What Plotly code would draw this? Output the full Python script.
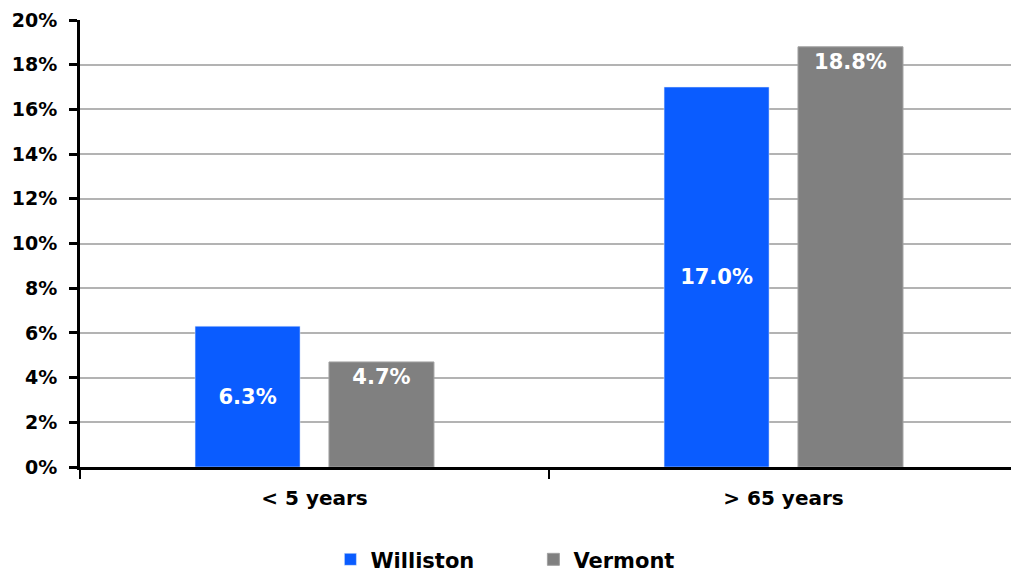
import plotly.graph_objects as go

categories = ["< 5 years", "> 65 years"]
williston = [6.3, 17.0]
vermont = [4.7, 18.8]
y_ticks = [0, 2, 4, 6, 8, 10, 12, 14, 16, 18, 20]

FONT = "DejaVu Sans"
BLUE = "#0a5cff"
GRAY = "#808080"

fig = go.Figure()
fig.add_trace(go.Bar(
    name="Williston", x=categories, y=williston, marker_color=BLUE,
    text=[f"{v:.1f}%" for v in williston], textposition="inside",
    insidetextanchor="middle",
    textfont=dict(family=FONT, size=21, color="white", weight="bold"),
))
fig.add_trace(go.Bar(
    name="Vermont", x=categories, y=vermont, marker_color=GRAY,
    marker_line=dict(color="#a0a0a0", width=1),
    text=[f"{v:.1f}%" for v in vermont], textposition="inside",
    insidetextanchor="end",
    textfont=dict(family=FONT, size=21, color="white", weight="bold"),
))

fig.update_layout(
    width=1011, height=577,
    margin=dict(l=80, r=0, t=20, b=110, autoexpand=False),
    plot_bgcolor="white", paper_bgcolor="white",
    barmode="group", bargap=0.429, bargroupgap=0.216,
    font=dict(family=FONT, color="black"),
    uniformtext=dict(minsize=10, mode="show"),
    legend=dict(
        orientation="h", x=0.487, xanchor="center",
        yref="container", y=0.03, yanchor="middle",
        font=dict(family=FONT, size=21, weight="bold"),
        itemwidth=30, entrywidth=158,
    ),
    xaxis=dict(
        type="category", range=[-0.5, 1.485], automargin=False,
        showline=True, linecolor="black", linewidth=3,
        ticks="outside", tickson="boundaries", ticklen=9, tickwidth=2,
        tickcolor="black", ticklabelstandoff=11,
        tickfont=dict(family=FONT, size=20, weight="bold"),
    ),
    yaxis=dict(
        range=[0, 20], tickvals=y_ticks, automargin=False,
        ticktext=[f"{v}%" for v in y_ticks],
        showline=True, linecolor="black", linewidth=3,
        ticks="outside", ticklen=8, tickwidth=3, tickcolor="black",
        ticklabelstandoff=8,
        showgrid=True, gridcolor="#b3b3b3", gridwidth=2,
        zeroline=False,
        tickfont=dict(family=FONT, size=19, weight="bold"),
    ),
    yaxis2=dict(
        overlaying="y", side="left", range=[0, 20], tickvals=y_ticks,
        showticklabels=False, showgrid=False, zeroline=False,
        ticks="inside", ticklen=8, tickwidth=3, tickcolor="black",
    ),
)

fig.write_html("out.html")
